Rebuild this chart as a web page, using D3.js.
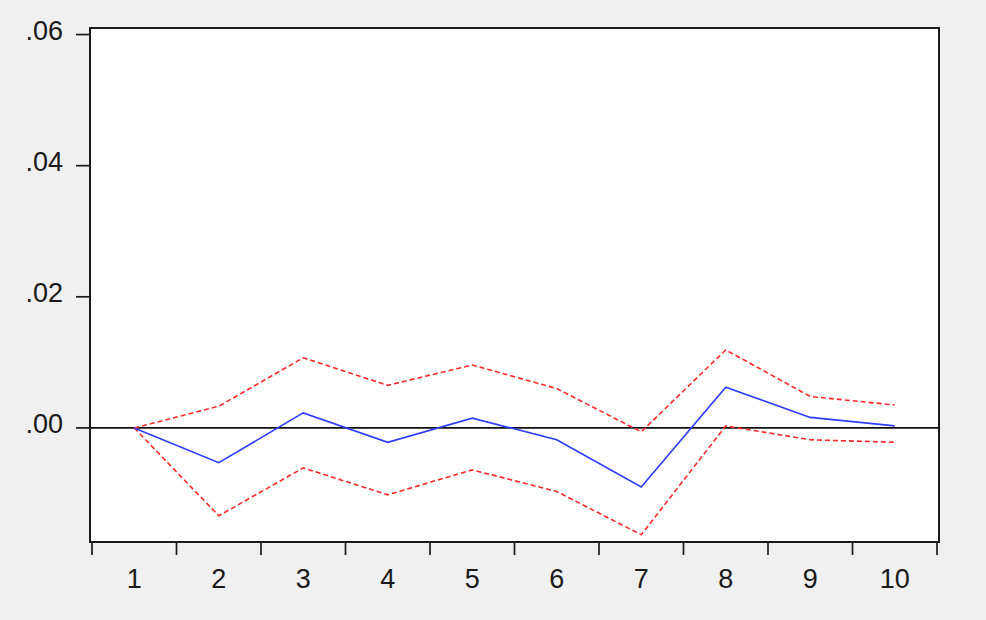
<!DOCTYPE html>
<html>
<head>
<meta charset="utf-8">
<script src="https://cdn.jsdelivr.net/npm/d3@7"></script>
<style>
  body { margin: 0; background: #f0f0f0; }
  svg { display: block; }
  .lbl { font-family: Arial, "Liberation Sans", sans-serif; font-size: 27px; fill: #1a1a1a; }
</style>
</head>
<body>
<div id="chart"></div>
<script>
// impulse response, with +/- 2 s.e. bands
let periods  = [1, 2, 3, 4, 5, 6, 7, 8, 9, 10];
let response = [0, -0.0053, 0.0023, -0.0022, 0.0015, -0.0018, -0.0090, 0.0062, 0.0016, 0.0003];
let upper    = [0, 0.0033, 0.0107, 0.0065, 0.0096, 0.0060, -0.0006, 0.0119, 0.0048, 0.0035];
let lower    = [0, -0.0134, -0.0061, -0.0102, -0.0064, -0.0097, -0.0163, 0.0003, -0.0018, -0.0022];
let yTicks   = [0, 0.02, 0.04, 0.06];

let width = 986, height = 620;
let plot = { left: 90, right: 939, top: 28, bottom: 542 };

let svg = d3.select("#chart").append("svg")
  .attr("width", width)
  .attr("height", height);

svg.append("rect")
  .attr("width", width).attr("height", height)
  .attr("fill", "#f0f0f0");

let xScale = d3.scaleBand().domain(periods).range([92, 937]);
let yScale = d3.scaleLinear().domain([-0.0174, 0.061]).range([plot.bottom, plot.top]);

function xc(p) { return xScale(p) + xScale.bandwidth() / 2; }

// plot area
svg.append("rect")
  .attr("x", plot.left).attr("y", plot.top)
  .attr("width", plot.right - plot.left)
  .attr("height", plot.bottom - plot.top)
  .attr("fill", "white");

// y axis ticks + labels
let yt = svg.append("g");
yt.selectAll("line").data(yTicks).enter().append("line")
  .attr("x1", plot.left - 14).attr("x2", plot.left)
  .attr("y1", d => yScale(d)).attr("y2", d => yScale(d))
  .attr("stroke", "#1a1a1a").attr("stroke-width", 1.7);
yt.selectAll("text").data(yTicks).enter().append("text")
  .attr("class", "lbl")
  .attr("x", 63)
  .attr("y", d => yScale(d) + 5)
  .attr("text-anchor", "end")
  .text(d => d3.format(".2f")(d).replace(/^0/, ""));

// x axis ticks at band edges, labels centred
let edges = periods.map(p => xScale(p)).concat([xScale(10) + xScale.bandwidth()]);
svg.append("g").selectAll("line").data(edges).enter().append("line")
  .attr("x1", d => d).attr("x2", d => d)
  .attr("y1", plot.bottom).attr("y2", plot.bottom + 13)
  .attr("stroke", "#1a1a1a").attr("stroke-width", 1.7);
svg.append("g").selectAll("text").data(periods).enter().append("text")
  .attr("class", "lbl")
  .attr("x", d => xc(d))
  .attr("y", 588)
  .attr("text-anchor", "middle")
  .text(d => d);

// zero line
svg.append("line")
  .attr("x1", plot.left).attr("x2", plot.right)
  .attr("y1", yScale(0)).attr("y2", yScale(0))
  .attr("stroke", "#111").attr("stroke-width", 1.8);

let line = d3.line()
  .x((d, i) => xc(periods[i]))
  .y(d => yScale(d));

// confidence bands
[upper, lower].forEach(function(s) {
  svg.append("path")
    .attr("d", line(s))
    .attr("fill", "none")
    .attr("stroke", "#ff2a2a")
    .attr("stroke-width", 1.6)
    .attr("stroke-dasharray", "5,3");
});

svg.append("path")
  .attr("d", line(response))
  .attr("fill", "none")
  .attr("stroke", "#2f3dff")
  .attr("stroke-width", 1.7);

// frame
svg.append("rect")
  .attr("x", plot.left).attr("y", plot.top)
  .attr("width", plot.right - plot.left)
  .attr("height", plot.bottom - plot.top)
  .attr("fill", "none")
  .attr("stroke", "#1a1a1a").attr("stroke-width", 2);
</script>
</body>
</html>
